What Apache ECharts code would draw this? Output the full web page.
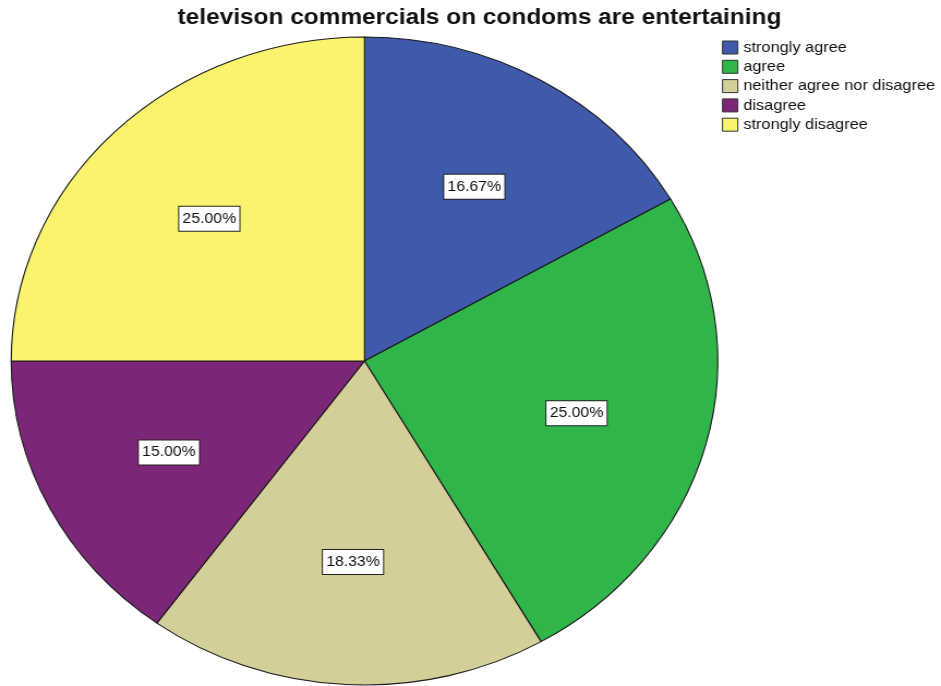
<!DOCTYPE html>
<html>
<head>
<meta charset="utf-8">
<script src="https://cdn.jsdelivr.net/npm/echarts@6/dist/echarts.min.js"></script>
<style>
  html, body { margin: 0; padding: 0; background: #ffffff; }
  #stage { position: relative; width: 941px; height: 686px; overflow: hidden; }
  /* the whole chart is laid out narrower and widened to the page width */
  #chart { position: absolute; left: 0; top: 0; height: 686px; transform-origin: 0 0; }
</style>
</head>
<body>
<div id="stage">
  <div id="chart"></div>
</div>
<script>
const chartTitle = 'televison commercials on condoms are entertaining';
const categories = ['strongly agree', 'agree', 'neither agree nor disagree', 'disagree', 'strongly disagree'];
const percents = [16.67, 25.00, 18.33, 15.00, 25.00];
const colors = ['#3f59ab', '#30b54a', '#d4ce98', '#7b2677', '#f9f36e'];

// layout width before horizontal stretch
const PAGE_W = 941;
const BASE_W = 863;
const SX = PAGE_W / BASE_W;

const el = document.getElementById('chart');
el.style.width = BASE_W + 'px';
el.style.transform = 'scaleX(' + SX + ')';

const CX = 364.5 / SX;
const CY = 361;
const R = 324;
const LABEL_SPREAD = 1.22;

const pieData = categories.map((name, i) => ({
  name: name,
  value: percents[i],
  itemStyle: { color: colors[i] }
}));

const chart = echarts.init(el, null, { renderer: 'canvas' });
chart.setOption({
  animation: false,
  backgroundColor: '#ffffff',
  title: {
    text: chartTitle,
    left: 474 / SX,
    textAlign: 'center',
    top: 2,
    textStyle: { fontFamily: 'Liberation Sans, Arial, sans-serif', fontWeight: 'bold', fontSize: 22.4, color: '#111' }
  },
  legend: {
    orient: 'vertical',
    left: 722 / SX,
    top: 40,
    padding: 0,
    itemWidth: 14,
    itemHeight: 13,
    itemGap: 4.3,
    icon: 'rect',
    selectedMode: false,
    textStyle: { fontFamily: 'Liberation Sans, Arial, sans-serif', fontSize: 15, color: '#111' },
    itemStyle: { borderColor: '#333', borderWidth: 1 },
    data: categories
  },
  series: [{
    type: 'pie',
    center: [CX, CY],
    radius: [0, R],
    startAngle: 90,
    clockwise: true,
    silent: true,
    itemStyle: { borderColor: '#1a1a1a', borderWidth: 1.1 },
    label: {
      show: true,
      position: 'inside',
      formatter: p => p.value.toFixed(2) + '%',
      fontFamily: 'Liberation Sans, Arial, sans-serif',
      fontSize: 14.5,
      color: '#111',
      backgroundColor: '#ffffff',
      borderColor: '#222',
      borderWidth: 1,
      padding: [5, 3, 4, 3]
    },
    labelLine: { show: false },
    // push the boxes a little further out along each slice's mid-angle
    labelLayout: function (p) {
      const r = p.labelRect;
      const lx = r.x + r.width / 2;
      const ly = r.y + r.height / 2;
      return {
        x: CX + (lx - CX) * LABEL_SPREAD,
        y: CY + (ly - CY) * LABEL_SPREAD
      };
    },
    data: pieData
  }]
});
</script>
</body>
</html>
